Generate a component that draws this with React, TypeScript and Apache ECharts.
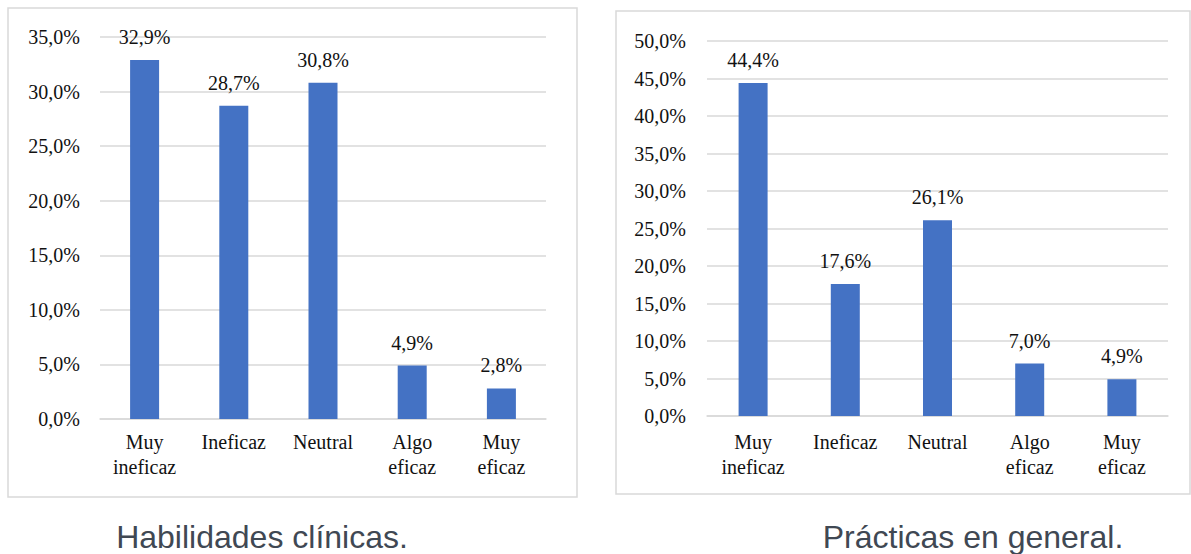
import React, { useEffect, useRef } from "react";
import * as echarts from "echarts";

const categories = ["Muy\nineficaz", "Ineficaz", "Neutral", "Algo\neficaz", "Muy\neficaz"];
const clinicalValues = [32.9, 28.7, 30.8, 4.9, 2.8];
const generalValues = [44.4, 17.6, 26.1, 7.0, 4.9];
const captionLeft = "Habilidades clínicas.";
const captionRight = "Prácticas en general.";

const fmt = (v: number) => v.toFixed(1).replace(".", ",") + "%";
const SERIF = "'Liberation Serif', 'Times New Roman', serif";
const SANS = "'Liberation Sans', Arial, sans-serif";
const TEXT = "#111111";
const GRID = "#d9d9d9";
const BAR = "#4472C4";

export default function App() {
  const ref = useRef<HTMLDivElement>(null);
  useEffect(() => {
    if (!ref.current) return;
    const chart = echarts.init(ref.current, undefined, { renderer: "svg" });
    const axisLabel = { color: TEXT, fontFamily: SERIF, fontSize: 20 };
    const mkX = (gridIndex: number, margin: number) => ({
      type: "category" as const,
      gridIndex,
      data: categories,
      axisLine: { show: true, lineStyle: { color: GRID, width: 1.5 } },
      axisTick: { show: false },
      axisLabel: { ...axisLabel, margin, lineHeight: 25, interval: 0 },
    });
    const mkY = (gridIndex: number, max: number, margin: number) => ({
      type: "value" as const,
      gridIndex,
      min: 0,
      max,
      interval: 5,
      axisLine: { show: false },
      axisTick: { show: false },
      splitLine: { show: true, lineStyle: { color: GRID, width: 1.5 } },
      axisLabel: { ...axisLabel, margin, formatter: (v: number) => fmt(v) },
    });
    const mkSeries = (idx: number, data: number[]) => ({
      type: "bar" as const,
      xAxisIndex: idx,
      yAxisIndex: idx,
      data,
      barWidth: 29,
      itemStyle: { color: BAR },
      label: {
        show: true,
        position: "top" as const,
        distance: 13,
        color: TEXT,
        fontFamily: SERIF,
        fontSize: 20,
        formatter: (p: any) => fmt(p.value),
      },
    });
    chart.setOption({
      animation: false,
      backgroundColor: "#ffffff",
      grid: [
        { left: 100, top: 37, width: 446, height: 382 },
        { left: 707, top: 41, width: 461, height: 375 },
      ],
      xAxis: [mkX(0, 10), mkX(1, 13)],
      yAxis: [mkY(0, 35, 20), mkY(1, 50, 21)],
      series: [mkSeries(0, clinicalValues), mkSeries(1, generalValues)],
      graphic: [
        {
          type: "rect",
          shape: { x: 8, y: 8, width: 569, height: 489 },
          style: { fill: "none", stroke: GRID, lineWidth: 1.5 },
          silent: true,
        },
        {
          type: "rect",
          shape: { x: 616, y: 11, width: 574, height: 483 },
          style: { fill: "none", stroke: GRID, lineWidth: 1.5 },
          silent: true,
        },
        {
          type: "text",
          x: 262,
          y: 537,
          style: {
            text: captionLeft,
            fontFamily: SANS,
            fontSize: 32,
            fill: "#404853",
            align: "center",
            verticalAlign: "middle",
          },
        },
        {
          type: "text",
          x: 973,
          y: 537,
          style: {
            text: captionRight,
            fontFamily: SANS,
            fontSize: 32,
            fill: "#404853",
            align: "center",
            verticalAlign: "middle",
          },
        },
      ],
    });
    return () => chart.dispose();
  }, []);
  return (
    <div
      ref={ref}
      style={{ position: "fixed", left: 0, top: 0, width: 1191, height: 554 }}
    />
  );
}
